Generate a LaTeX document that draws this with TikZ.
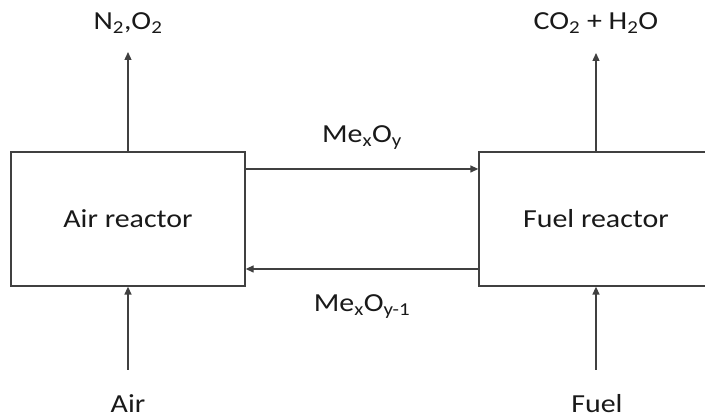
\documentclass[tikz,border=0pt]{standalone}
\usepackage{fontspec}
\setmainfont{Carlito}[FakeStretch=1.15]
\usetikzlibrary{arrows.meta}
\begin{document}
\begin{tikzpicture}[x=1pt,y=1pt,font=\fontsize{26}{30}\selectfont,
  reactor/.style={draw=black!75,line width=1.3pt,minimum width=234pt,minimum height=134pt,inner sep=0pt,text=black!90},
  flow/.style={draw=black!75,line width=1.3pt,-{Triangle[length=8pt,width=7pt]}},
  species/.style={anchor=base,inner sep=0pt,text=black!90}]
  \clip (0,0) rectangle (705,419);
  % reactors
  \node[reactor] (air) at (128,200) {Air reactor};
  \node[reactor] (fuel) at (596,200) {Fuel reactor};
  % streams in and out
  \node[species] (n2o2) at (128,389) {N\textsubscript{2},O\textsubscript{2}};
  \node[species] (co2) at (596,389) {CO\textsubscript{2} + H\textsubscript{2}O};
  \node[species] (airin) at (128,6) {Air};
  \node[species] (fuelin) at (597,6) {Fuel};
  \coordinate (n2o2tip) at (128,367);
  \coordinate (co2tip) at (596,366);
  \coordinate (airtail) at (128,49);
  \coordinate (fueltail) at (596,49);
  \draw[flow] (air.north) -- (n2o2tip);
  \draw[flow] (fuel.north) -- (co2tip);
  \draw[flow] (airtail) -- (air.south);
  \draw[flow] (fueltail) -- (fuel.south);
  % oxygen carrier loop
  \draw[flow] ([yshift=50pt]air.east) -- ([yshift=50pt]fuel.west)
    node[species,midway,yshift=26pt] (oxid) {Me\textsubscript{x}O\textsubscript{y}};
  \draw[flow] ([yshift=-50pt]fuel.west) -- ([yshift=-50pt]air.east)
    node[species,midway,yshift=-43pt] (red) {Me\textsubscript{x}O\textsubscript{y-1}};
\end{tikzpicture}
\end{document}
